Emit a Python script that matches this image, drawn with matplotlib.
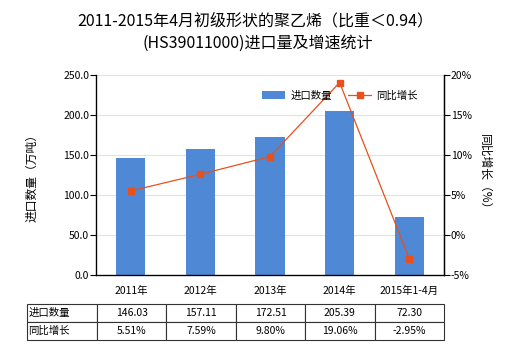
import matplotlib

matplotlib.use("Agg")
import matplotlib.pyplot as plt
import numpy as np

plt.rcParams["font.family"] = ["Noto Sans CJK SC", "DejaVu Sans"]

categories = ["2011年", "2012年", "2013年", "2014年", "2015年1-4月"]
volume = [146.03, 157.11, 172.51, 205.39, 72.30]
growth = [5.51, 7.59, 9.80, 19.06, -2.95]
volume_labels = ["146.03", "157.11", "172.51", "205.39", "72.30"]
growth_labels = ["5.51%", "7.59%", "9.80%", "19.06%", "-2.95%"]

bar_color = "#4F88D4"
line_color = "#E8501C"
grid_color = "#E6E2D6"

fig = plt.figure(figsize=(5.2, 3.5), dpi=100)
W, H = 520, 350
ax = fig.add_axes([96 / W, 1 - 275 / H, 348 / W, 200 / H])
x = np.arange(len(categories))

ax.bar(x, volume, width=0.42, color=bar_color, zorder=2, label="进口数量")
ax.set_xlim(-0.5, len(categories) - 0.5)
ax.set_ylim(0, 250)
ax.set_yticks(np.arange(0, 251, 50))
ax.set_yticklabels([f"{v:.1f}" for v in np.arange(0, 251, 50)], fontsize=7.5)
ax.yaxis.grid(True, color=grid_color, linewidth=0.8, zorder=0)
ax.set_axisbelow(True)
ax.set_xticks(x)
ax.set_xticklabels(categories, fontsize=7.5)
ax.tick_params(axis="x", length=0, pad=8)
ax.tick_params(axis="y", length=4, width=0.8, pad=1)
ax.spines["top"].set_visible(False)
for s in ("left", "right", "bottom"):
    ax.spines[s].set_linewidth(0.9)
ax.set_ylabel("进口数量（万吨）", fontsize=8.5, labelpad=18)

ax2 = ax.twinx()
ax2.plot(x, growth, color=line_color, linewidth=0.9, marker="s", markersize=4,
         zorder=3, label="同比增长")
ax2.set_ylim(-5, 20)
ax2.set_yticks(np.arange(-5, 21, 5))
ax2.set_yticklabels([f"{v}%" for v in np.arange(-5, 21, 5)], fontsize=7.5)
ax2.tick_params(axis="y", length=4, width=0.8, pad=1)
ax2.spines["top"].set_visible(False)
ax2.spines["right"].set_linewidth(0.9)
ax2.set_ylabel("同比增长（%）", fontsize=8.5, rotation=270, labelpad=14)

h1, l1 = ax.get_legend_handles_labels()
h2, l2 = ax2.get_legend_handles_labels()
ax2.legend(h1 + h2, l1 + l2, loc="upper left", bbox_to_anchor=(0.45, 0.97),
           ncol=2, frameon=False, fontsize=7.5, handlelength=2.2,
           columnspacing=1.6, handletextpad=0.5)

fig.text(255 / W, 1 - 21 / H, "2011-2015年4月初级形状的聚乙烯（比重＜0.94）",
         ha="center", va="center", fontsize=11.5)
fig.text(258 / W, 1 - 43 / H, "(HS39011000)进口量及增速统计",
         ha="center", va="center", fontsize=11.5)

cell_text = [["进口数量"] + volume_labels, ["同比增长"] + growth_labels]
col_w = [70 / 417] + [69.5 / 417] * len(categories)
tbl = ax.table(cellText=cell_text, colWidths=col_w, cellLoc="center",
               bbox=[-69 / 348, -65 / 200, 417 / 348, 36 / 200])
tbl.auto_set_font_size(False)
tbl.set_fontsize(7.5)
for (r, c), cell in tbl.get_celld().items():
    cell.set_linewidth(0.8)
    cell.set_edgecolor("#333333")
    if c == 0:
        cell.get_text().set_ha("left")
        cell.PAD = 0.02

fig.savefig("out.png", dpi=100)
